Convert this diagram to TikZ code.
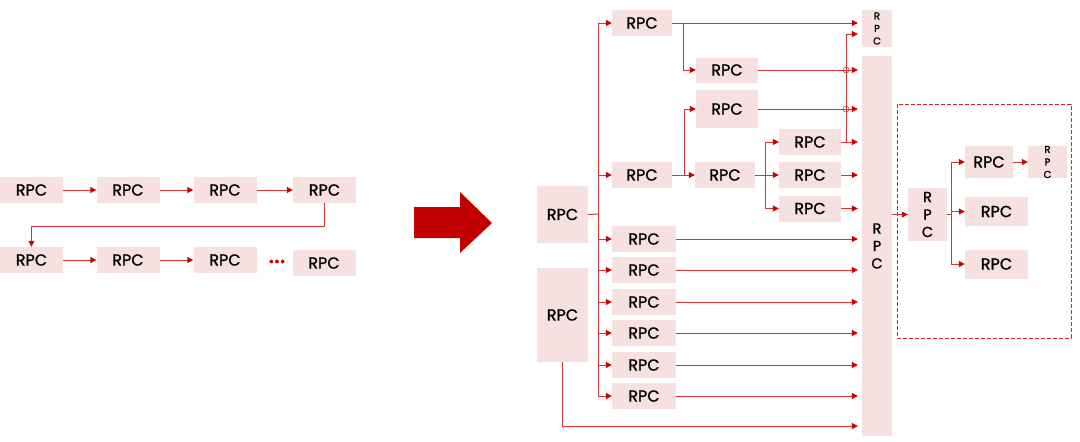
\documentclass[tikz,border=0pt]{standalone}
\usepackage{fontspec}
\setmainfont{Poppins}[RawFeature={embolden=1.2}]
\usetikzlibrary{arrows.meta,positioning}
\definecolor{boxcol}{RGB}{246,224,224}
\definecolor{linecol}{RGB}{214,52,52}
\definecolor{tipcol}{RGB}{204,0,0}
\definecolor{bigarrowcol}{RGB}{192,0,0}

\tikzset{
  rpc/.style={fill=boxcol, inner sep=0pt, font=\fontsize{16}{16}\selectfont,
    minimum width=#1, minimum height=26pt},
  rpc/.default=63pt,
  vrpc/.style={fill=boxcol, inner sep=0pt, align=center,
    font=\fontsize{14.5}{17.5}\selectfont},
  wire/.style={draw=linecol, line width=1pt},
  link/.style={wire, -{Triangle[length=6pt,width=6pt,color=tipcol]}},
  tobig/.style={shorten >=4pt}
}

\begin{document}
\begin{tikzpicture}[x=1pt,y=-1pt]
\useasboundingbox (0,0) rectangle (1080,442);

% Serial chain
\node[rpc] (l1) at (31.5,190) {RPC};
\node[rpc] (l2) at (128,190) {RPC};
\node[rpc] (l3) at (225,190) {RPC};
\node[rpc] (l4) at (324.5,190) {RPC};
\node[rpc] (m1) at (31.5,260) {RPC};
\node[rpc] (m2) at (128,260) {RPC};
\node[rpc] (m3) at (225,260) {RPC};
\node[text=tipcol, font=\fontsize{27}{27}\selectfont] (dots) at (277,261.5) {...};
\node[rpc] (m4) at (324,263) {RPC};
\draw[link] (l1) -- (l2);
\draw[link] (l2) -- (l3);
\draw[link] (l3) -- (l4);
\draw[link] (l4.south) -- ++(0,23) -| (m1.north);
\draw[link] (m1) -- (m2);
\draw[link] (m2) -- (m3);

% Big arrow
\fill[bigarrowcol] (414,207) -- (460,207) -- (460,192) -- (492,223)
  -- (460,253) -- (460,238) -- (414,238) -- cycle;

% Fan-out tree
\node[rpc=51pt, minimum height=57pt] (A) at (562.5,214.5) {RPC};
\node[rpc=51pt, minimum height=94pt] (B) at (562.5,315) {RPC};
\node[rpc=60pt] (t1) at (642,23) {RPC};
\node[rpc=60pt] (t2) at (642,175) {RPC};
\node[rpc=64pt] (t3) at (644,239) {RPC};
\node[rpc=64pt] (t4) at (644,270) {RPC};
\node[rpc=64pt] (t5) at (644,302) {RPC};
\node[rpc=64pt] (t6) at (644,333) {RPC};
\node[rpc=64pt] (t7) at (644,365) {RPC};
\node[rpc=64pt] (t8) at (644,396) {RPC};
\node[rpc=62pt, minimum height=25pt] (s1) at (727,70) {RPC};
\node[rpc=62pt, minimum height=38pt] (s2) at (727,109) {RPC};
\node[rpc=60pt] (s3) at (725,175) {RPC};
\node[rpc=62pt] (u1) at (810,142) {RPC};
\node[rpc=62pt] (u2) at (810,175) {RPC};
\node[rpc=62pt] (u3) at (810,208.5) {RPC};
\node[vrpc, font=\fontsize{10}{12.5}\selectfont, minimum width=30pt, minimum height=37pt] (top) at (877,28.5) {R\\P\\C};
\node[vrpc, minimum width=30pt, minimum height=380pt] (big) at (877,246) {R\\P\\C};

\coordinate (trunk) at (598,214);
\coordinate (fork1) at (683,23);
\coordinate (fork2) at (684,175);
\coordinate (fork3) at (765,175);
\coordinate (fork4) at (846,142);
\coordinate (bottomline) at (0,426);

\draw[wire] (A.east) -- (trunk);
\draw[wire] (trunk |- t1.west) -- (trunk |- t8.west);
\foreach \t in {t1,t2,t3,t4,t5,t6,t7,t8}
  \draw[link] (trunk |- \t.west) -- (\t.west);

\draw[link, tobig] (t1.east) -- (t1.east -| top.west);
\draw[link] (fork1) |- (s1.west);
\draw[link] (t2.east) -- (s3.west);
\draw[link] (fork2) |- (s2.west);
\draw[wire] (s3.east) -- (fork3);
\draw[wire] (fork3 |- u1.west) -- (fork3 |- u3.west);
\foreach \u in {u1,u2,u3}
  \draw[link] (fork3 |- \u.west) -- (\u.west);

% Lines into the big RPC
\foreach \n in {s1,s2,u1,u2,u3,t3,t4,t5,t6,t7,t8}
  \draw[link, tobig] (\n.east) -- (\n.east -| big.west);
\draw[link, tobig] (B.south) |- (big.west |- bottomline);

% Feedback to the small RPC, hopping over two lines
\draw[link, tobig] (fork4) |- ([yshift=-5.5pt]top.west);
\draw[wire, line width=0.6pt] (fork4 |- s1.east) circle (3pt);
\draw[wire, line width=0.6pt] (fork4 |- s2.east) circle (3pt);

% Zoomed sub-tree
\draw[tipcol!85, line width=1pt, dash pattern=on 4pt off 2pt] (897,104) rectangle (1071,338);
\node[vrpc, minimum width=39pt, minimum height=53pt] (d0) at (927.5,214.5) {R\\P\\C};
\node[rpc=48pt, minimum height=32pt] (d1) at (989,162) {RPC};
\node[rpc=63pt, minimum height=29pt] (d2) at (996.5,211.5) {RPC};
\node[rpc=63pt, minimum height=29pt] (d3) at (996.5,264) {RPC};
\node[vrpc, font=\fontsize{10}{12.5}\selectfont, minimum width=39pt, minimum height=32pt] (d4) at (1047.5,162) {R\\P\\C};
\coordinate (fork5) at (951,214.5);

\draw[link] (big.east |- d0.west) -- (d0.west);
\draw[wire] (d0.east) -- (fork5);
\draw[wire] (fork5 |- d1.west) -- (fork5 |- d3.west);
\foreach \d in {d1,d2,d3}
  \draw[link] (fork5 |- \d.west) -- (\d.west);
\draw[link] (d1) -- (d4);
\end{tikzpicture}
\end{document}
